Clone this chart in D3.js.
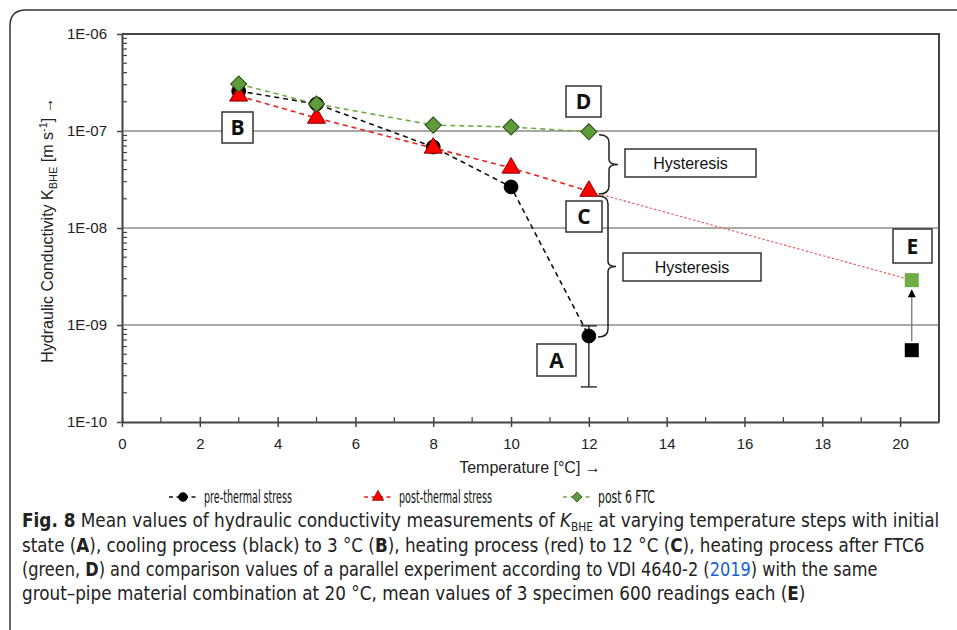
<!DOCTYPE html>
<html>
<head>
<meta charset="utf-8">
<script src="https://cdn.jsdelivr.net/npm/d3@7"></script>
<style>
body { margin: 0; background: #fff; }
svg { display: block; }
</style>
</head>
<body>
<script>
// data
var temps = [3, 5, 8, 10, 12];
var preStress = [2.58e-7, 1.9e-7, 6.84e-8, 2.65e-8, 7.7e-10];
var postStress = [2.3e-7, 1.36e-7, 6.68e-8, 4.16e-8, 2.4e-8];
var post6FTC = [3.05e-7, 1.9e-7, 1.15e-7, 1.1e-7, 9.8e-8];
var errA = [9.8e-10, 2.3e-10];          // error bar at 12 °C (upper, lower)
var tempE = 20.3;
var refE = [5.5e-10, 2.9e-9];           // VDI 4640-2 comparison: before, after
var yTicks = [1e-10, 1e-9, 1e-8, 1e-7, 1e-6];
var xTicks = [0, 2, 4, 6, 8, 10, 12, 14, 16, 18, 20];

var width = 957, height = 630;
var margin = {top: 34, right: 18, bottom: 208, left: 122};

var svg = d3.select("body").append("svg")
	.attr("width", width)
	.attr("height", height);

// outer figure frame (only top-left corner visible)
svg.append("path")
	.attr("d", "M10,630 L10,26 Q10,10 26,10 L957,10")
	.attr("fill", "none")
	.attr("stroke", "#333")
	.attr("stroke-width", 1.5);

var x = d3.scaleLinear().domain([0, 21]).range([margin.left, width - margin.right]);
var y = d3.scaleLog().domain([1e-10, 1e-6]).range([height - margin.bottom, margin.top]);

var fontTick = "'Liberation Sans', Arial, sans-serif";
var fontNarrow = "'Liberation Sans Narrow', 'DejaVu Sans Condensed', 'Liberation Sans', sans-serif";

// squeeze a text element horizontally so it spans len pixels
function fitWidth(t, x0, y0, len) {
	var natural = t.node().getComputedTextLength();
	t.attr("transform", "translate(" + x0 + "," + y0 + ") scale(" + (len / natural) + ",1)");
}

// horizontal gridlines at each decade
svg.selectAll(".grid").data(yTicks.slice(1, 4)).enter()
	.append("line")
	.attr("x1", x(0)).attr("x2", x(21))
	.attr("y1", (d) => y(d)).attr("y2", (d) => y(d))
	.attr("stroke", "#555").attr("stroke-width", 1);

// top and right border of plot
svg.append("path")
	.attr("d", "M" + x(0) + "," + y(1e-6) + " H" + x(21) + " V" + y(1e-10))
	.attr("fill", "none").attr("stroke", "#444").attr("stroke-width", 2);

// y axis with minor ticks
var minors = [];
for (var e = -10; e < -6; e++) {
	for (var k = 2; k <= 9; k++) minors.push(k * Math.pow(10, e));
}
svg.selectAll(".ymin").data(minors).enter()
	.append("line")
	.attr("x1", x(0)).attr("x2", x(0) + 5)
	.attr("y1", (d) => y(d)).attr("y2", (d) => y(d))
	.attr("stroke", "#444").attr("stroke-width", 1.2);

var leftAxis = d3.axisLeft(y).tickValues(yTicks).tickSize(5).tickSizeOuter(0)
	.tickFormat((d) => "1E-" + String(-Math.round(Math.log10(d))).padStart(2, "0"));
var gy = svg.append("g").attr("transform", "translate(" + x(0) + ",0)").call(leftAxis);
gy.select(".domain").attr("stroke", "#444").attr("stroke-width", 2);
gy.selectAll(".tick line").attr("stroke", "#444").attr("stroke-width", 1.5);
gy.selectAll(".tick text").attr("x", -15).attr("font-size", "15px")
	.attr("font-family", fontTick).attr("fill", "#222");

// x axis with minor ticks
var xMinors = d3.range(1, 21, 2);
svg.selectAll(".xmin").data(xMinors).enter()
	.append("line")
	.attr("x1", (d) => x(d)).attr("x2", (d) => x(d))
	.attr("y1", y(1e-10)).attr("y2", y(1e-10) - 5)
	.attr("stroke", "#444").attr("stroke-width", 1.2);

var bottomAxis = d3.axisBottom(x).tickValues(xTicks).tickSize(5).tickSizeOuter(0);
var gx = svg.append("g").attr("transform", "translate(0," + y(1e-10) + ")").call(bottomAxis);
gx.select(".domain").attr("stroke", "#444").attr("stroke-width", 2);
gx.selectAll(".tick line").attr("y1", -5).attr("stroke", "#444").attr("stroke-width", 1.5);
gx.selectAll(".tick text").attr("y", 16).attr("font-size", "15px")
	.attr("font-family", fontTick).attr("fill", "#222");

// axis titles
svg.append("text")
	.attr("x", 530).attr("y", 473)
	.attr("text-anchor", "middle")
	.attr("font-family", fontTick).attr("font-size", "16px").attr("fill", "#222")
	.text("Temperature [°C] →");

var yt = svg.append("text")
	.attr("transform", "translate(53,230) rotate(-90)")
	.attr("text-anchor", "middle")
	.attr("font-family", fontTick).attr("font-size", "16px").attr("fill", "#222");
yt.append("tspan").text("Hydraulic Conductivity K");
yt.append("tspan").attr("font-size", "11px").attr("dy", 4).text("BHE");
yt.append("tspan").attr("dy", -4).text(" [m s");
yt.append("tspan").attr("font-size", "11px").attr("dy", -6).text("-1");
yt.append("tspan").attr("dy", 6).text("] →");

// series
var series = [
	{name: "pre-thermal stress", vals: preStress, color: "#111", fill: "#000", stroke: "#000", sym: d3.symbolCircle, size: 150, rot: 0, legLen: 88},
	{name: "post-thermal stress", vals: postStress, color: "#e8211d", fill: "#f00", stroke: "#8b0000", sym: d3.symbolTriangle, size: 140, rot: 0, legLen: 93},
	{name: "post 6 FTC", vals: post6FTC, color: "#6fac46", fill: "#609b3a", stroke: "#2d4a1a", sym: d3.symbolSquare, size: 130, rot: 45, legLen: 57}
];

var line = d3.line().x((d) => x(d[0])).y((d) => y(d[1]));

// red dotted extension to E
svg.append("path")
	.datum([[temps[4], postStress[4]], [tempE, refE[1]]])
	.attr("d", line)
	.attr("fill", "none").attr("stroke", "#f06060").attr("stroke-width", 1.2)
	.attr("stroke-dasharray", "2.5,2");

// error bar at A
svg.append("line")
	.attr("x1", x(12)).attr("x2", x(12))
	.attr("y1", y(errA[0])).attr("y2", y(errA[1]))
	.attr("stroke", "#333").attr("stroke-width", 1.5);
errA.forEach((v) => {
	svg.append("line")
		.attr("x1", x(12) - 8).attr("x2", x(12) + 8)
		.attr("y1", y(v)).attr("y2", y(v))
		.attr("stroke", "#333").attr("stroke-width", 1.5);
});

series.forEach((s) => {
	var pts = temps.map((t, i) => [t, s.vals[i]]);
	svg.append("path")
		.datum(pts)
		.attr("d", line)
		.attr("fill", "none").attr("stroke", s.color).attr("stroke-width", 1.6)
		.attr("stroke-dasharray", "5,4");
});

// markers
series.forEach((s) => {
	svg.selectAll(null).data(temps).enter()
		.append("path")
		.attr("d", d3.symbol().type(s.sym).size(s.size))
		.attr("transform", (d, i) => "translate(" + x(d) + "," + y(s.vals[i]) + ") rotate(" + s.rot + ")")
		.attr("fill", s.fill).attr("stroke", s.stroke).attr("stroke-width", 1);
});

// E comparison squares and arrow
svg.append("line")
	.attr("x1", x(tempE)).attr("x2", x(tempE))
	.attr("y1", y(refE[0]) - 9).attr("y2", y(refE[1]) + 14)
	.attr("stroke", "#777").attr("stroke-width", 1.3);
svg.append("path")
	.attr("d", "M" + x(tempE) + "," + (y(refE[1]) + 9) + " l-4,8 h8 z")
	.attr("fill", "#000");
svg.append("rect")
	.attr("x", x(tempE) - 7).attr("y", y(refE[0]) - 7)
	.attr("width", 14).attr("height", 14).attr("fill", "#000");
svg.append("rect")
	.attr("x", x(tempE) - 7).attr("y", y(refE[1]) - 7)
	.attr("width", 14).attr("height", 14).attr("fill", "#6fac46");

// braces
function brace(xb, y0, y1, tip) {
	var ym = (y0 + y1) / 2;
	return "M" + (xb - 10) + "," + y0 + " Q" + xb + "," + y0 + " " + xb + "," + (y0 + 8) +
		" V" + (ym - 5) + " Q" + xb + "," + ym + " " + (xb + tip) + "," + ym +
		" Q" + xb + "," + ym + " " + xb + "," + (ym + 5) +
		" V" + (y1 - 8) + " Q" + xb + "," + y1 + " " + (xb - 10) + "," + y1;
}
svg.append("path").attr("d", brace(609, y(post6FTC[4]) + 3, y(postStress[4]) + 3, 9))
	.attr("fill", "none").attr("stroke", "#222").attr("stroke-width", 1.5);
svg.append("path").attr("d", brace(608, y(postStress[4]) + 5, y(preStress[4]) + 1, 8))
	.attr("fill", "none").attr("stroke", "#222").attr("stroke-width", 1.5);

// annotation boxes
var boxes = [
	{t: "B", x: 222, y: 112, w: 31, h: 31, bold: true},
	{t: "D", x: 566, y: 86, w: 35, h: 31, bold: true},
	{t: "C", x: 566, y: 201, w: 36, h: 31, bold: true},
	{t: "A", x: 537, y: 344, w: 39, h: 32, bold: true},
	{t: "E", x: 893, y: 229, w: 39, h: 34, bold: true},
	{t: "Hysteresis", x: 625, y: 149, w: 131, h: 28, bold: false},
	{t: "Hysteresis", x: 623, y: 253, w: 138, h: 28, bold: false}
];
boxes.forEach((b) => {
	svg.append("rect")
		.attr("x", b.x).attr("y", b.y).attr("width", b.w).attr("height", b.h)
		.attr("fill", "#fff").attr("stroke", "#333").attr("stroke-width", 1.5);
	svg.append("text")
		.attr("x", b.x + b.w / 2).attr("y", b.y + b.h / 2)
		.attr("dy", "0.36em")
		.attr("text-anchor", "middle")
		.attr("font-family", b.bold ? "'Open Sans', sans-serif" : fontTick)
		.attr("font-weight", b.bold ? "bold" : "normal")
		.attr("font-size", b.bold ? "21px" : "16px")
		.attr("fill", "#111")
		.text(b.t);
});

// legend
var legX = [169, 364, 563];
series.forEach((s, i) => {
	var lg = svg.append("g").attr("transform", "translate(" + legX[i] + ",497)");
	lg.append("line").attr("x1", 0).attr("x2", 28)
		.attr("stroke", s.color).attr("stroke-width", 1.6).attr("stroke-dasharray", "4,3.5");
	lg.append("path").attr("d", d3.symbol().type(s.sym).size(s.size * 0.4))
		.attr("transform", "translate(14,0) rotate(" + s.rot + ")")
		.attr("fill", s.fill).attr("stroke", s.stroke).attr("stroke-width", 0.8);
	var lt = lg.append("text").attr("dy", "0.35em")
		.attr("font-family", fontNarrow)
		.attr("font-size", "17px").attr("fill", "#111")
		.text(s.name);
	fitWidth(lt, 35, 0, s.legLen);
});

// caption
var capLines = [
	{y: 527, len: 918, parts: [["Fig. 8", "b"], ["  Mean values of hydraulic conductivity measurements of ", ""], ["K", "i"], ["BHE", "sub"], [" at varying temperature steps with initial", "up"]]},
	{y: 552, len: 903, parts: [["state (", ""], ["A", "b"], ["), cooling process (black) to 3 °C (", ""], ["B", "b"], ["), heating process (red) to 12 °C (", ""], ["C", "b"], ["), heating process after FTC6", ""]]},
	{y: 576, len: 856, parts: [["(green, ", ""], ["D", "b"], [") and comparison values of a parallel experiment according to VDI 4640-2 (", ""], ["2019", "link"], [") with the same", ""]]},
	{y: 600, len: 784, parts: [["grout–pipe material combination at 20 °C, mean values of 3 specimen 600 readings each (", ""], ["E", "b"], [")", ""]]}
];
capLines.forEach((c) => {
	var t = svg.append("text")
		.attr("font-family", fontNarrow).attr("font-size", "19px").attr("fill", "#222");
	c.parts.forEach((p) => {
		var ts = t.append("tspan").text(p[0]);
		if (p[1] === "b") ts.attr("font-weight", "bold");
		if (p[1] === "i") ts.attr("font-style", "italic");
		if (p[1] === "sub") ts.attr("font-size", "12px").attr("dy", 4);
		if (p[1] === "up") ts.attr("dy", -4);
		if (p[1] === "link") ts.attr("fill", "#1a5fd0");
	});
	fitWidth(t, 22, c.y, c.len);
});
</script>
</body>
</html>
